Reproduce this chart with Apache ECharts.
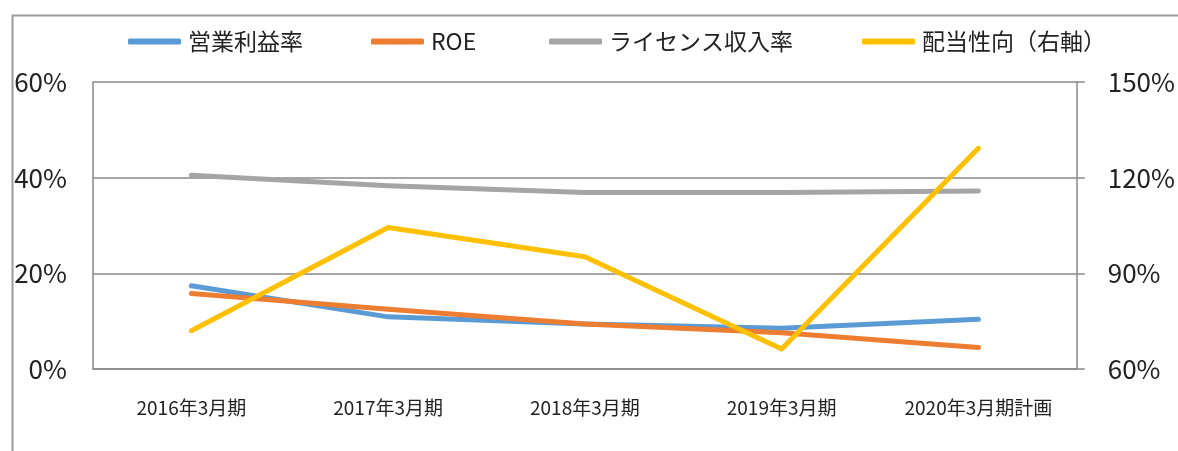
<!DOCTYPE html>
<html>
<head>
<meta charset="utf-8">
<script src="https://cdn.jsdelivr.net/npm/echarts@6/dist/echarts.min.js"></script>
<style>
html,body{margin:0;padding:0;background:#fff;}
#chart{width:1178px;height:451px;}
</style>
</head>
<body>
<div id="chart"></div>
<script>
var categories = ['2016年3月期', '2017年3月期', '2018年3月期', '2019年3月期', '2020年3月期計画'];
var operatingMargin = [17.4, 10.9, 9.4, 8.5, 10.4];
var roe = [15.8, 12.5, 9.4, 7.6, 4.5];
var licenseRatio = [40.5, 38.3, 36.9, 36.9, 37.2];
var payoutRatio = [72.0, 104.4, 95.2, 66.3, 129.2];
var leftTicks = { min: 0, max: 60, interval: 20 };
var rightTicks = { min: 60, max: 150, interval: 30 };
var seriesNames = ['営業利益率', 'ROE', 'ライセンス収入率', '配当性向（右軸）'];
var colors = ['#5B9BD5', '#ED7D31', '#A5A5A5', '#FFC000'];

var FONT = '"Noto Sans CJK JP", "Noto Sans", sans-serif';
var AXIS_COLOR = '#898989';
var legendLeft = [128, 371, 549, 862];

var chart = echarts.init(document.getElementById('chart'), null, { renderer: 'canvas' });

function mkLegend(i) {
  return {
    data: [seriesNames[i]],
    left: legendLeft[i],
    top: 30,
    padding: 0,
    icon: 'roundRect',
    itemWidth: 53,
    itemHeight: 6,
    itemGap: 0,
    textStyle: { fontFamily: FONT, fontSize: 23, color: '#222', padding: [0, 0, 0, 2] },
    selectedMode: false
  };
}

function mkSeries(i, data, yIdx) {
  return {
    name: seriesNames[i],
    type: 'line',
    yAxisIndex: yIdx,
    data: data,
    symbol: 'none',
    smooth: false,
    z: 2 + i,
    itemStyle: { color: colors[i] },
    lineStyle: { color: colors[i], width: 5, cap: 'round', join: 'round' },
    emphasis: { disabled: true }
  };
}

chart.setOption({
  animation: false,
  backgroundColor: '#fff',
  graphic: [{
    type: 'rect',
    left: 10, top: 13,
    shape: { width: 1400, height: 600 },
    style: { fill: 'none', stroke: '#9a9a9a', lineWidth: 2 },
    z: 0
  }],
  legend: [mkLegend(0), mkLegend(1), mkLegend(2), mkLegend(3)],
  grid: { left: 93, right: 91, top: 82, bottom: 82, containLabel: false },
  xAxis: {
    type: 'category',
    data: categories,
    boundaryGap: true,
    axisLine: { show: true, lineStyle: { color: AXIS_COLOR, width: 1.5 } },
    axisTick: { show: false },
    axisLabel: { fontFamily: FONT, fontSize: 19, color: '#222', margin: 29 },
    splitLine: { show: false }
  },
  yAxis: [{
    type: 'value',
    position: 'left',
    min: leftTicks.min, max: leftTicks.max, interval: leftTicks.interval,
    axisLine: { show: true, lineStyle: { color: AXIS_COLOR, width: 1.5 } },
    axisTick: { show: false },
    axisLabel: { fontFamily: FONT, fontSize: 26, color: '#222', margin: 26, formatter: '{value}%' },
    splitLine: { show: true, lineStyle: { color: AXIS_COLOR, width: 1.5 } }
  }, {
    type: 'value',
    position: 'right',
    min: rightTicks.min, max: rightTicks.max, interval: rightTicks.interval,
    axisLine: { show: true, lineStyle: { color: AXIS_COLOR, width: 1.5 } },
    axisTick: { show: true, inside: false, length: 8, lineStyle: { color: AXIS_COLOR, width: 1.5 } },
    axisLabel: { fontFamily: FONT, fontSize: 26, color: '#222', margin: 31, formatter: '{value}%' },
    splitLine: { show: false }
  }],
  series: [
    mkSeries(0, operatingMargin, 0),
    mkSeries(1, roe, 0),
    mkSeries(2, licenseRatio, 0),
    mkSeries(3, payoutRatio, 1)
  ]
});
</script>
</body>
</html>
